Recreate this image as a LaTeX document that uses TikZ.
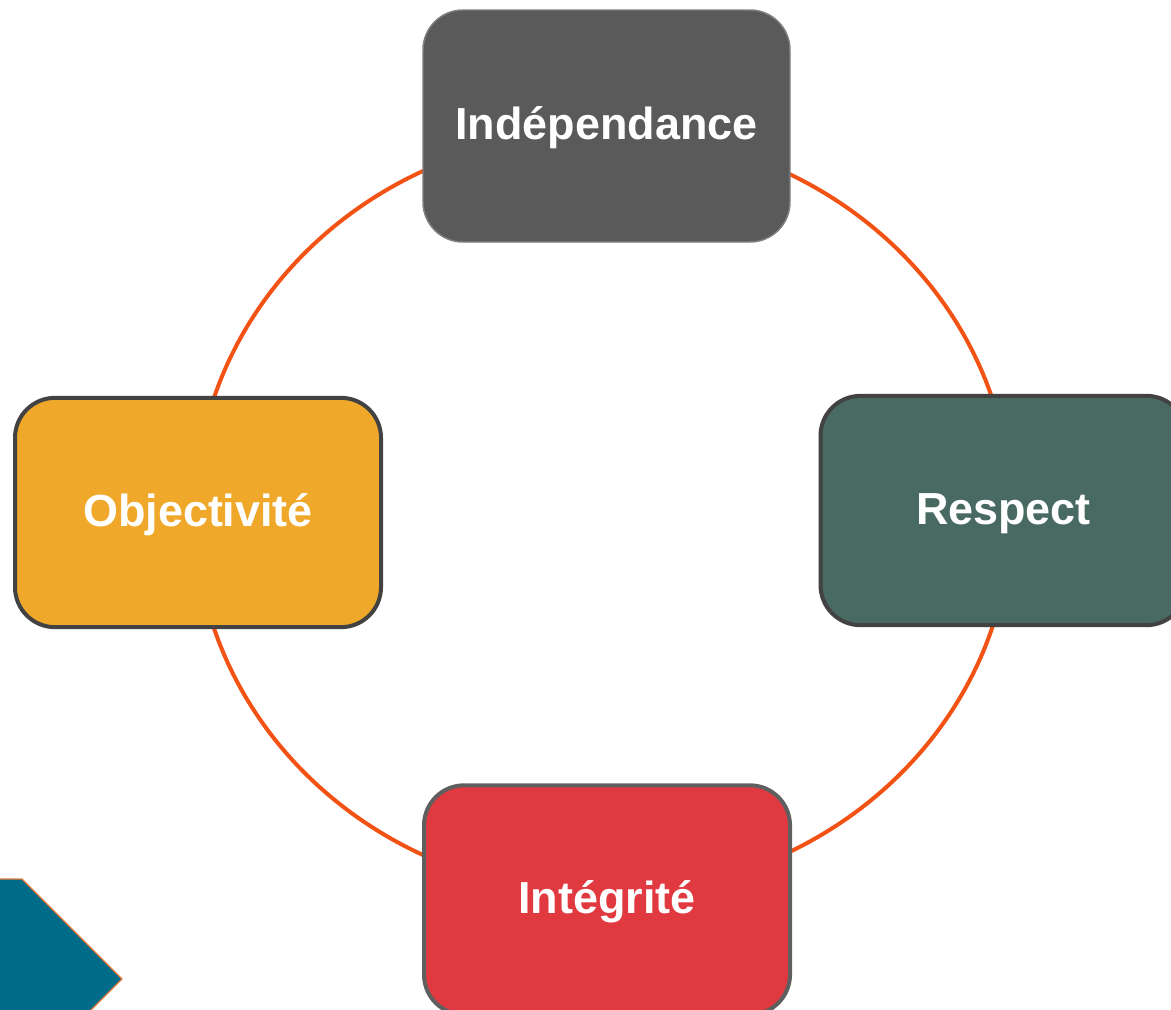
\documentclass[tikz,border=0pt]{standalone}
\usepackage{fontspec}
\setmainfont{Liberation Sans}
\definecolor{ringc}{HTML}{F25314}
\definecolor{topc}{HTML}{5A5A5A}
\definecolor{topb}{HTML}{808080}
\definecolor{respc}{HTML}{496A62}
\definecolor{objc}{HTML}{F0A82A}
\definecolor{intc}{HTML}{E03A40}
\definecolor{darkb}{HTML}{424242}
\definecolor{intb}{HTML}{5F5F5F}
\definecolor{tealc}{HTML}{006B88}
\definecolor{tealb}{HTML}{E8793A}
\newcommand{\lowtxt}[1]{\raisebox{-10.4pt}[0pt][0pt]{#1}}
\tikzset{
  valbox/.style={rectangle, rounded corners=30pt, text=white,
    font=\bfseries\fontsize{33.7pt}{40pt}\selectfont, inner sep=0pt,
    minimum width=274.5pt, minimum height=172pt, line width=3pt, draw=darkb},
  ring/.style={draw=ringc, line width=3pt},
}
\begin{document}
\begin{tikzpicture}[x=0.75pt,y=-0.75pt]
\useasboundingbox (0,0) rectangle (1171,1010);
\clip (0,0) rectangle (1171,1010);
% ring
\coordinate (c) at (603,513);
\draw[ring] (c) ellipse [x radius=306pt, y radius=285.75pt];
% boxes
\node[valbox, fill=topc, draw=topb, line width=1.1pt, minimum width=275.25pt, minimum height=174pt] (ind) at (606.5,126) {\lowtxt{Indépendance}};
\node[valbox, fill=respc] (resp) at (1003.5,510.5) {\lowtxt{Respect}};
\node[valbox, fill=objc] (obj) at (198,512.5) {\lowtxt{Objectivité}};
\node[valbox, fill=intc, draw=intb] (integ) at (607,900) {\lowtxt{Intégrité}};
% teal chevron
\draw[fill=tealc, draw=tealb, line width=0.9pt] (-50,879) -- (22,879) -- (122,979) -- (22,1079) -- (-50,1079) -- cycle;
\end{tikzpicture}
\end{document}
